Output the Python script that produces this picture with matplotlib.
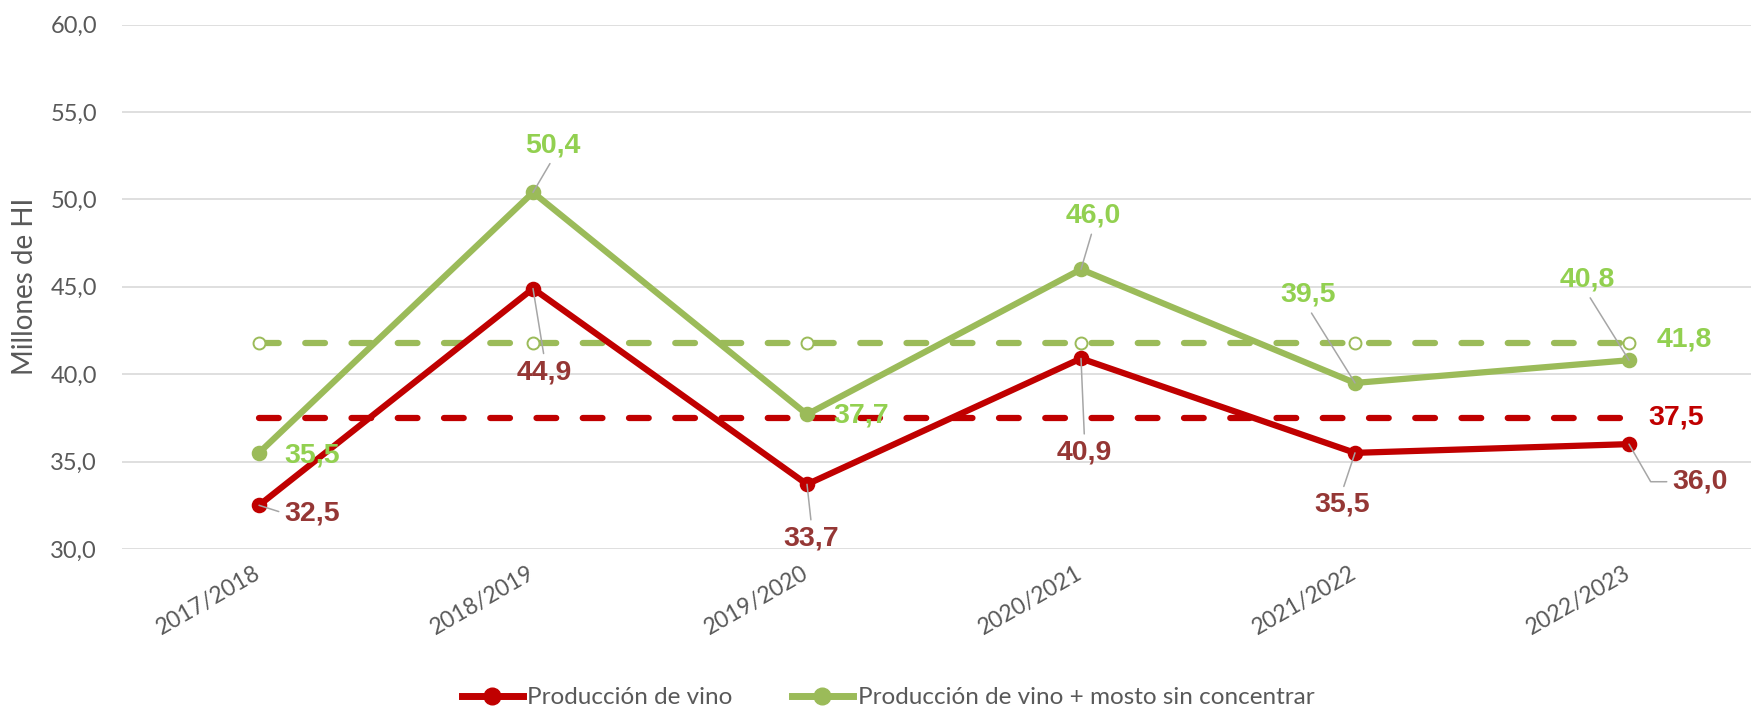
import matplotlib
matplotlib.use("Agg")
import matplotlib.pyplot as plt
import matplotlib.transforms as mtransforms
from matplotlib.lines import Line2D

# ---------------- data ----------------
categories = ["2017/2018", "2018/2019", "2019/2020", "2020/2021", "2021/2022", "2022/2023"]
vino = [32.5, 44.9, 33.7, 40.9, 35.5, 36.0]
vino_mosto = [35.5, 50.4, 37.7, 46.0, 39.5, 40.8]
media_vino = 37.5
media_vino_mosto = 41.8
yticks = [30, 35, 40, 45, 50, 55, 60]
series_names = ["Producción de vino", "Producción de vino + mosto sin concentrar"]
ylabel = "Millones de HI"

# ---------------- style ----------------
RED = "#C00000"
GREEN = "#9BBB59"
RED_LBL = "#953735"
GREEN_LBL = "#92D050"
GRAY = "#595959"
GRID = "#D9D9D9"
LEADER = "#A6A6A6"
FONT = ["Lato", "DejaVu Sans"]
LBL_FONT = ["Liberation Sans", "DejaVu Sans"]

plt.rcParams["font.family"] = FONT
plt.rcParams["lines.scale_dashes"] = False

W, H = 1751, 709
fig = plt.figure(figsize=(W / 100, H / 100), dpi=100)
ax = fig.add_axes([122 / W, (H - 549) / H, 1644 / W, (549 - 24.6) / H])

x = list(range(len(categories)))
ax.set_xlim(-0.5, len(categories) - 0.5)
ax.set_ylim(30, 60)
ax.set_yticks(yticks)
ax.set_yticklabels([f"{v:.1f}".replace(".", ",") for v in yticks])
ax.yaxis.grid(True, color=GRID, lw=1.2)
ax.set_axisbelow(True)
for s in ax.spines.values():
    s.set_visible(False)
ax.tick_params(axis="y", length=0, pad=18, labelsize=17, labelcolor=GRAY)
ax.tick_params(axis="x", length=0, pad=12, labelsize=16.5, labelcolor=GRAY)
ax.set_xticks(x)
ax.set_xticklabels(categories, rotation=30, ha="right", va="top", rotation_mode="anchor")
shift = mtransforms.ScaledTranslation(-6 / 100, 3 / 100, fig.dpi_scale_trans)
for t in ax.get_xticklabels():
    t.set_transform(t.get_transform() + shift)

LW = 4.5
DASH = (14.2, 19.1)
# average dashed lines
ax.plot(x, [media_vino_mosto] * len(x), color=GREEN, lw=LW, dashes=DASH,
        dash_capstyle="round", marker="o", ms=8.6, mfc="white", mec=GREEN, mew=1.4, zorder=2)
ax.plot(x, [media_vino] * len(x), color=RED, lw=LW, dashes=DASH,
        dash_capstyle="round", zorder=2)
# main series
ax.plot(x, vino_mosto, color=GREEN, lw=LW, marker="o", ms=10, mfc=GREEN, mec=GREEN, mew=1.2,
        solid_capstyle="round", zorder=3)
ax.plot(x, vino, color=RED, lw=LW, marker="o", ms=10, mfc=RED, mec=RED, mew=1.2,
        solid_capstyle="round", zorder=4)

def fmt(v):
    return f"{v:.1f}".replace(".", ",")

# label offsets in pixels (dx, dy) and leader relpos
red_off = [(53, -8), (11.5, -83.5), (4.5, -54), (3.5, -94), (-13, -52), (71, -37.6)]
red_rel = [(0, 0.5), (0.5, 1), (0.5, 1), (0.5, 1), (0.5, 1), (0, 0.5)]
green_off = [(53, -3), (20, 47), (54.5, -1.3), (12, 53.5), (-46.7, 88), (-42, 80.5)]
green_rel = [None, (0.5, 0), None, (0.5, 0), (0.5, 0), (0.5, 0)]

def label(xi, yi, txt, off, color, rel, conn="arc3"):
    kw = dict(xy=(xi, yi), xytext=off, textcoords="offset pixels", ha="center", va="center",
              fontsize=20.5, fontweight="bold", family=LBL_FONT, color=color, zorder=6)
    if rel is not None:
        kw["arrowprops"] = dict(arrowstyle="-", color=LEADER, lw=1.1, relpos=rel,
                                shrinkA=2, shrinkB=0, connectionstyle=conn)
    ax.annotate(txt, **kw)

for i, v in enumerate(vino):
    conn = "angle,angleA=0,angleB=-60,rad=0" if i == 5 else "arc3"
    label(x[i], v, fmt(v), red_off[i], RED_LBL, red_rel[i], conn)
for i, v in enumerate(vino_mosto):
    label(x[i], v, fmt(v), green_off[i], GREEN_LBL, green_rel[i])

label(x[-1], media_vino_mosto, fmt(media_vino_mosto), (55, 3), GREEN_LBL, None)
label(x[-1], media_vino, fmt(media_vino), (47, 0), RED, None)

fig.text(25 / W, 1 - 286 / H, ylabel, rotation=90, ha="center", va="center",
         fontsize=20, color=GRAY)

handles = [
    Line2D([], [], color=RED, lw=5, marker="o", ms=12, mfc=RED, mec=RED),
    Line2D([], [], color=GREEN, lw=5, marker="o", ms=12, mfc=GREEN, mec=GREEN),
]
fig.legend(handles, series_names, loc="center", bbox_to_anchor=(888 / W, 1 - 697.5 / H),
           ncol=2, frameon=False, fontsize=17.5, labelcolor=GRAY, handlelength=2.5,
           handletextpad=0.2, columnspacing=2.43, numpoints=1, borderpad=0, borderaxespad=0)

fig.savefig("out.png", dpi=100)
